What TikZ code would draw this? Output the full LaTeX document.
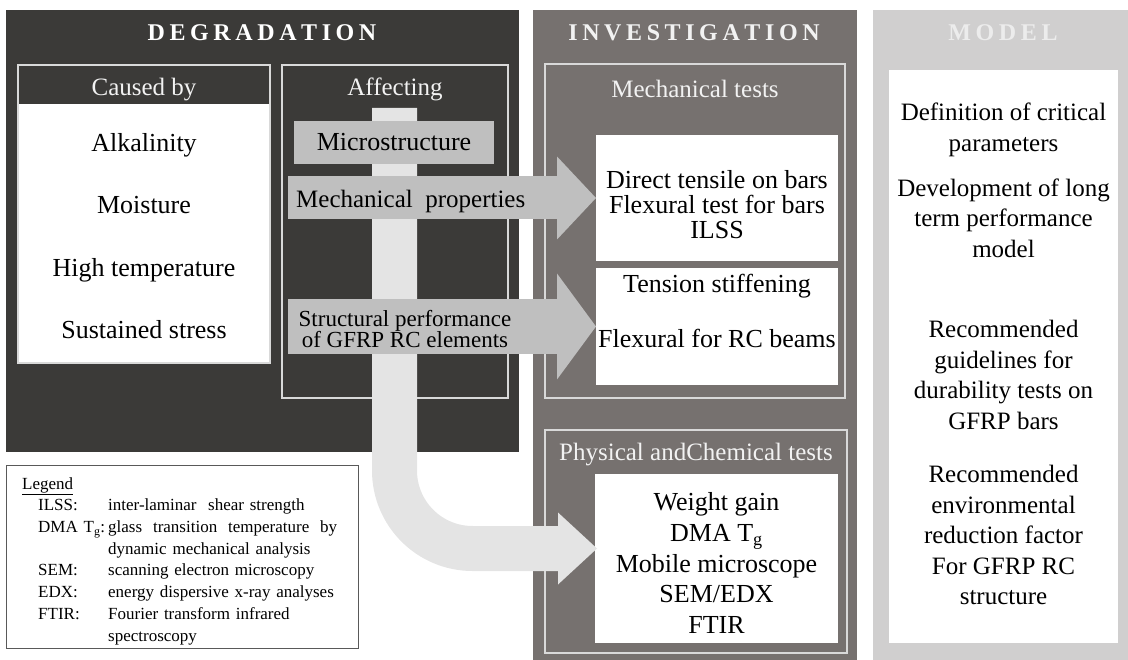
\documentclass[tikz,border=0pt]{standalone}
\usepackage{fontspec}
\setmainfont{Liberation Serif}
\usepackage{tikz}
\usetikzlibrary{arrows.meta}

\definecolor{degrbg}{RGB}{59,58,56}
\definecolor{invbg}{RGB}{118,113,111}
\definecolor{modelbg}{RGB}{208,207,207}
\definecolor{arrowgray}{RGB}{191,191,191}
\definecolor{barlight}{RGB}{228,228,228}
\definecolor{edgegray}{RGB}{217,217,217}
\definecolor{headwhite}{RGB}{242,242,242}
\definecolor{modeltitlecol}{RGB}{236,236,236}
\definecolor{legendgray}{RGB}{89,89,89}

\makeatletter
\newcommand\spreadcaps[1]{\@tfor\spread@ch:=#1\do{\spread@ch\kern4.6pt}\kern-4.6pt}
\makeatother

\begin{document}
\begin{tikzpicture}[x=1pt, y=-1pt,
  panel/.style={anchor=north west, inner sep=0pt, outer sep=0pt},
  framebox/.style={panel, draw=edgegray, line width=1.2pt},
  listbox/.style={panel, fill=white},
  paneltitle/.style={font=\fontsize{24}{28}\selectfont\bfseries},
  headtext/.style={font=\fontsize{25}{29}\selectfont, text=headwhite, inner sep=0pt},
  itemtext/.style={font=\fontsize{26}{30}\selectfont, align=center, inner sep=0pt},
  modeltext/.style={font=\fontsize{25}{30.5}\selectfont, align=center, inner sep=0pt},
  legendtext/.style={font=\fontsize{17}{21.7}\selectfont, inner sep=0pt}]

  \useasboundingbox (0,0) rectangle (1128,660);

  \node[panel, fill=degrbg, minimum width=513pt, minimum height=442pt] (degradation) at (6,10) {};
  \node[panel, fill=invbg, minimum width=324pt, minimum height=650pt] (investigation) at (533,10) {};
  \node[panel, fill=modelbg, minimum width=255pt, minimum height=650pt] (model) at (873,10) {};

  \node[paneltitle, text=white] (degrtitle) at (262,33) {\spreadcaps{DEGRADATION}};
  \node[paneltitle, text=headwhite] (invtitle) at (694,33) {\spreadcaps{INVESTIGATION}};
  \node[paneltitle, text=modeltitlecol] (modeltitle) at (1003,33) {\spreadcaps{MODEL}};

  \node[listbox, minimum width=252pt, minimum height=259pt] (causelist) at (18,104) {};
  \node[framebox, minimum width=252pt, minimum height=298pt] (causeframe) at (18,65) {};
  \node[framebox, minimum width=226pt, minimum height=333pt] (affectframe) at (282,65) {};
  \node[framebox, minimum width=300pt, minimum height=334pt] (mechframe) at (545,64) {};
  \node[framebox, minimum width=302pt, minimum height=223pt] (physframe) at (545,430) {};
  \node[listbox, minimum width=242pt, minimum height=126pt] (tensile) at (596,135) {};
  \node[listbox, minimum width=242pt, minimum height=117pt] (beams) at (596,268) {};
  \node[listbox, minimum width=243pt, minimum height=169pt] (physlist) at (595,474) {};
  \node[listbox, minimum width=229pt, minimum height=573pt] (modellist) at (889,70) {};
  \node[panel, draw=legendgray, line width=1pt, minimum width=352pt, minimum height=183pt] (legend) at (6,465) {};

  \coordinate (bartop) at (394.5,108);
  \coordinate (physin) at (597,548.5);
  \draw[barlight, line width=45pt, rounded corners=78pt,
    -{Triangle[length=39pt, width=72pt, line width=0pt]}] (bartop) |- (physin);

  \node[panel, fill=arrowgray, minimum width=200pt, minimum height=43pt] (micro) at (294,121) {};
  \coordinate (mechstart) at (288,0);
  \coordinate (structstart) at (288,0);
  \draw[arrowgray, line width=43pt,
    -{Triangle[length=39pt, width=83pt, line width=0pt]}] (mechstart |- tensile.west) -- (tensile.west);
  \draw[arrowgray, line width=55pt,
    -{Triangle[length=39pt, width=106pt, line width=0pt]}] (structstart |- beams.west) -- (beams.west);

  \node[headtext] (causehead) at (144,90) {Caused by};
  \node[headtext] (affecthead) at (395,89) {Affecting};
  \node[itemtext] (alkalinity) at (144,145) {Alkalinity};
  \node[itemtext] (moisture) at (144,205) {Moisture};
  \node[itemtext] (hightemp) at (144,270) {High temperature};
  \node[itemtext] (sustained) at (144,330) {Sustained stress};
  \node[itemtext] (microtext) at (micro.center) {Microstructure};
  \node[itemtext, font=\fontsize{25}{29}\selectfont, anchor=west] (mechprop) at (296,201) {Mechanical\ \ properties};
  \node[itemtext, font=\fontsize{23}{21.5}\selectfont] (structperf) at (405,329) {Structural performance\\of GFRP RC elements};

  \node[headtext] (mechhead) at (695,89) {Mechanical tests};
  \node[itemtext, font=\fontsize{26}{25}\selectfont] (tensiletext) at (717,205) {Direct tensile on bars\\Flexural test for bars\\ILSS};
  \node[itemtext] (stiffening) at (717,286) {Tension stiffening};
  \node[itemtext] (rcbeams) at (717,338) {Flexural for RC beams};
  \node[headtext] (physhead) at (696,455) {Physical andChemical tests};
  \node[itemtext, font=\fontsize{26}{30.7}\selectfont] (physitems) at (716.5,563) {Weight gain\\DMA T\textsubscript{g}\\Mobile microscope\\SEM/EDX\\FTIR};

  \node[modeltext] (critical) at (1003.5,130) {Definition of critical\\parameters};
  \node[modeltext] (longterm) at (1003.5,218) {Development of long\\term performance\\model};
  \node[modeltext] (guidelines) at (1003.5,375) {Recommended\\guidelines for\\durability tests on\\GFRP bars};
  \node[modeltext] (reduction) at (1003.5,535) {Recommended\\environmental\\reduction factor\\For GFRP RC\\structure};

  \node[legendtext, anchor=base west] (legendtitle) at (22,489) {\underline{Legend}};
  \node[legendtext, anchor=north west] (legendbody) at (38,495.5) {\spaceskip=0.34em plus 1em
    \begin{tabular}{@{}p{70pt}@{}l@{}}
      ILSS: & inter-laminar\ \ shear strength\\
      DMA T\textsubscript{g}: & \makebox[229pt][s]{glass transition temperature by}\\
      & dynamic mechanical analysis\\
      SEM: & scanning electron microscopy\\
      EDX: & energy dispersive x-ray analyses\\
      FTIR: & Fourier transform infrared\\
      & spectroscopy
    \end{tabular}};

\end{tikzpicture}
\end{document}
